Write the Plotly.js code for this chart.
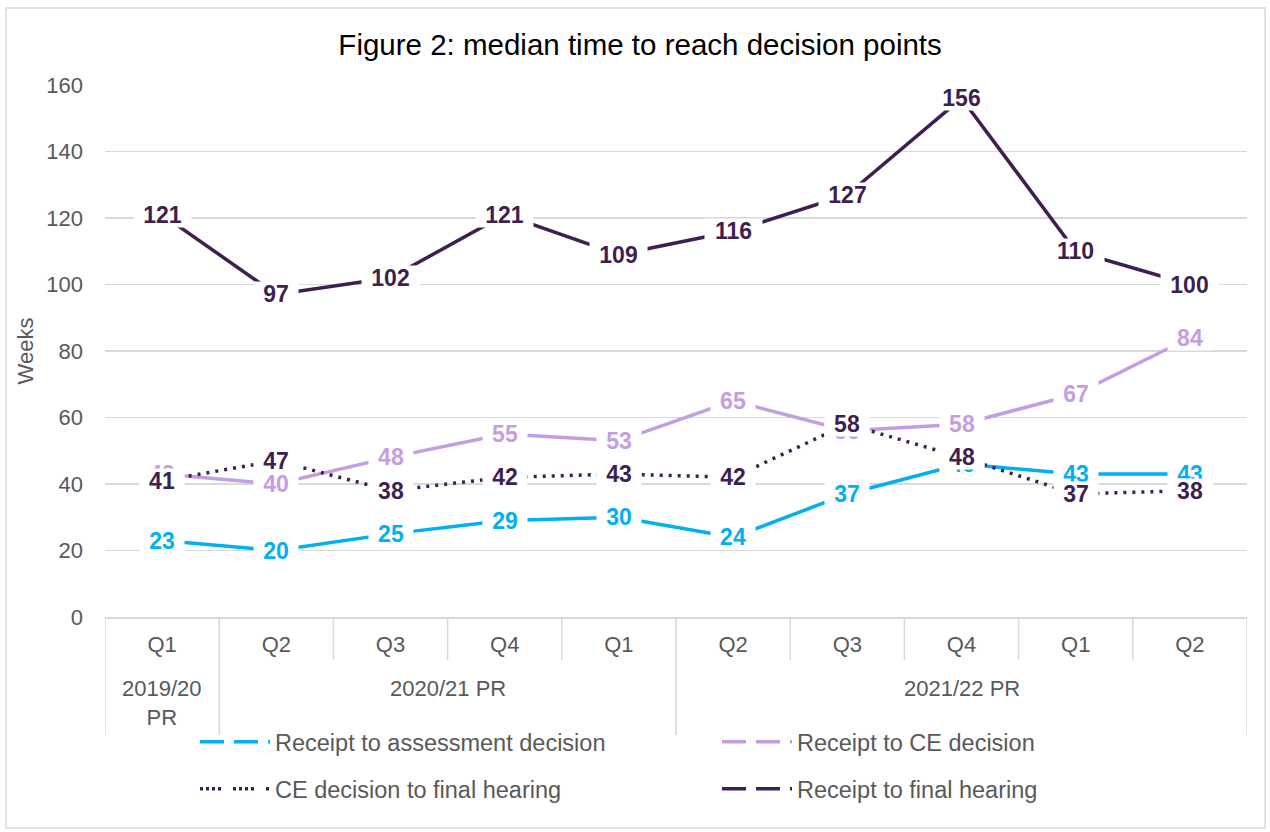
<!DOCTYPE html>
<html><head><meta charset="utf-8">
<script src="https://cdn.plot.ly/plotly-3.0.1.min.js"></script>
<style>html,body{margin:0;padding:0;background:#fff}#chart{width:1270px;height:832px}</style>
</head><body><div id="chart"></div>
<script>
// ---- data ----
const quarters = ['Q1','Q2','Q3','Q4','Q1','Q2','Q3','Q4','Q1','Q2'];
const groupLabels = ['2019/20<br>PR','2020/21 PR','2021/22 PR'];
const groupSizes = [1,4,5];
const seriesNames = ['Receipt to assessment decision','Receipt to CE decision','CE decision to final hearing','Receipt to final hearing'];
const receiptToAssessment = [23,20,25,29,30,24,37,46,43,43];
const receiptToCE = [43,40,48,55,53,65,56,58,67,84];
const ceToFinalHearing = [41,47,38,42,43,42,58,48,37,38];
const receiptToFinalHearing = [121,97,102,121,109,116,127,156,110,100];

// ---- styles ----
const FONT = 'Liberation Sans, Arial, sans-serif';
const colors = ['#00B0F0','#C59EE2','#3E1F4F','#3E1F4F'];
const dashes = ['solid','solid','3px,6px','solid'];
const legendDashes = ['24px,10px','24px,10px','3px,3px,3px,3px,3px,3px,3px,12px','24px,10px'];
const seriesValues = [receiptToAssessment, receiptToCE, ceToFinalHearing, receiptToFinalHearing];
const xIdx = quarters.map((_, i) => i);

const traces = [];
seriesValues.forEach((vals, s) => {
  traces.push({
    type: 'scatter', mode: 'lines', x: xIdx, y: vals, name: seriesNames[s],
    line: {color: colors[s], width: 3.5, dash: dashes[s]},
    showlegend: false, hoverinfo: 'skip'
  });
});
// legend entries (one legend box per entry, laid out 2 x 2 as in the reference)
const legendIds = ['legend','legend2','legend3','legend4'];
seriesValues.forEach((vals, s) => {
  traces.push({
    type: 'scatter', mode: 'lines', x: [null], y: [null], name: seriesNames[s],
    line: {color: colors[s], width: 3.5, dash: legendDashes[s]},
    showlegend: true, legend: legendIds[s]
  });
});

// data labels (order: blue, lavender, final hearing, dotted on top)
const labelOrder = [0,1,3,2];
const annotations = [];
labelOrder.forEach(s => {
  seriesValues[s].forEach((v, i) => {
    const txt = String(v);
    annotations.push({
      x: i, y: v, xref: 'x', yref: 'y', text: '<b>' + txt + '</b>', showarrow: false,
      font: {family: FONT, size: 23, color: colors[s]}, bgcolor: '#ffffff', borderpad: 0,
      width: 13 * txt.length + 18, height: 24
    });
  });
});

// group labels and divider lines
const shapes = [];
let start = 0;
const boundaries = [-0.5];
groupSizes.forEach((n, g) => {
  const center = start + (n - 1) / 2;
  annotations.push({
    x: center, y: -0.108, xref: 'x', yref: 'paper', yanchor: 'top', text: groupLabels[g],
    showarrow: false, font: {family: FONT, size: 22, color: '#595959'}
  });
  start += n;
  boundaries.push(start - 0.5);
});
const groupBounds = new Set(boundaries);
for (let b = -0.5; b <= quarters.length - 0.5; b += 1) {
  const long = groupBounds.has(b);
  shapes.push({type: 'line', xref: 'x', yref: 'paper', x0: b, x1: b, y0: 0, y1: long ? -0.222 : -0.081,
    line: {color: '#D9D9D9', width: 1.5}});
}
// outer chart border
shapes.push({type: 'rect', xref: 'paper', yref: 'paper', x0: -0.0867, x1: 1.0158, y0: -0.3966, y1: 1.1447,
  line: {color: '#D9D9D9', width: 1.5}, fillcolor: 'rgba(0,0,0,0)'});

const legendFont = {family: FONT, size: 23.5, color: '#595959'};
const legendPos = [[0.0788, (617-742)/532], [0.5359, (617-742)/532], [0.0788, (617-789)/532], [0.5359, (617-789)/532]];
const layout = {
  width: 1270, height: 832,
  margin: {l: 105, r: 23, t: 85, b: 215},
  paper_bgcolor: '#ffffff', plot_bgcolor: '#ffffff',
  font: {family: FONT, size: 22, color: '#595959'},
  title: {text: 'Figure 2: median time to reach decision points', xref: 'container', x: 0.504, xanchor: 'center',
    y: 1 - 45/832, yref: 'container', yanchor: 'middle', font: {family: FONT, size: 29.5, color: '#000000'}},
  xaxis: {range: [-0.5, quarters.length - 0.5], tickmode: 'array', tickvals: xIdx, ticktext: quarters,
    showgrid: false, zeroline: false, showline: true, linecolor: '#D9D9D9', linewidth: 1.5, ticks: '',
    ticklabelstandoff: 7, tickfont: {family: FONT, size: 22, color: '#595959'}, fixedrange: true},
  yaxis: {range: [0, 160], dtick: 20, showgrid: true, gridcolor: '#D9D9D9', gridwidth: 1.5, zeroline: false,
    ticks: '', ticklabelstandoff: 21, tickfont: {family: FONT, size: 22, color: '#595959'},
    title: {text: 'Weeks', standoff: 6, font: {family: FONT, size: 22, color: '#595959'}}, fixedrange: true},
  annotations: annotations,
  shapes: shapes,
  showlegend: true
};
legendIds.forEach((id, k) => {
  layout[id] = {orientation: 'h', x: legendPos[k][0], xanchor: 'left', y: legendPos[k][1], yanchor: 'middle',
    itemwidth: 70, font: legendFont, bgcolor: 'rgba(0,0,0,0)'};
});

Plotly.newPlot('chart', traces, layout, {displayModeBar: false, staticPlot: true});
</script></body></html>
